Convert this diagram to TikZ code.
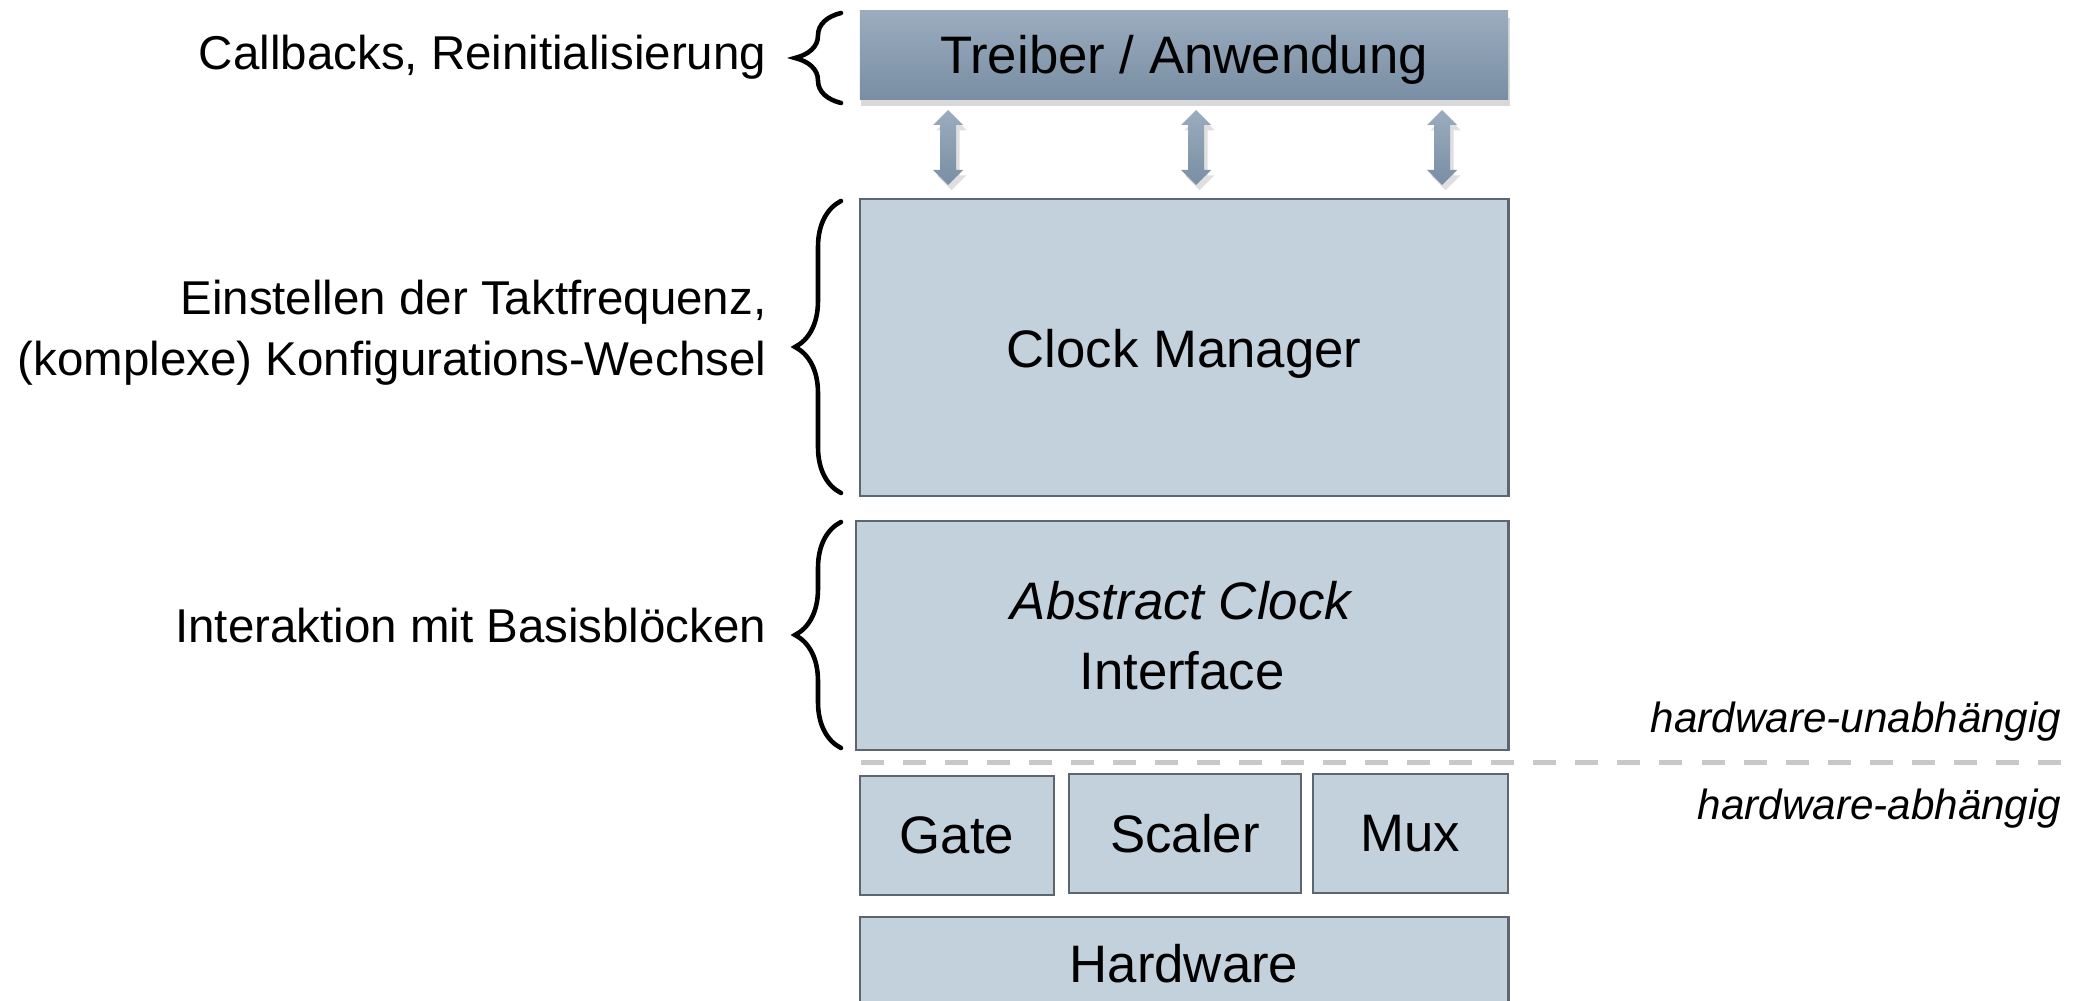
\documentclass[tikz,border=0pt]{standalone}
\usepackage{fontspec}
\setmainfont{Liberation Sans}
\usetikzlibrary{shadows,decorations.pathreplacing,calc}
\definecolor{boxfill}{HTML}{C3D1DC}
\definecolor{boxline}{HTML}{5B6670}
\definecolor{topA}{HTML}{9BACBE}
\definecolor{topB}{HTML}{798EA4}
\definecolor{dashc}{HTML}{C8C8C8}
\begin{document}
\begin{tikzpicture}[x=0.01cm,y=-0.01cm,
  blk/.style={draw=boxline, line width=0.75pt, fill=boxfill, inner sep=0pt, outer sep=0pt,
    font=\fontsize{15pt}{19.9pt}\selectfont, align=center},
  topblk/.style={inner sep=0pt, outer sep=0pt, top color=topA, bottom color=topB,
    font=\fontsize{15pt}{18pt}\selectfont,
    drop shadow={shadow xshift=0.4pt, shadow yshift=-2pt, opacity=0.3}},
  lbl/.style={anchor=east, align=right, inner sep=0pt, font=\fontsize{13.5pt}{17.4pt}\selectfont},
  rlbl/.style={anchor=east, inner sep=0pt, font=\fontsize{12pt}{14pt}\selectfont\itshape},
  brc/.style={decorate, decoration={brace, amplitude=0.46cm}, line width=1.3pt, line cap=round},
  dblarrow/.style={top color=topA, bottom color=topB,
    drop shadow={shadow xshift=1pt, shadow yshift=-1.5pt, opacity=0.25}}
]
\useasboundingbox (0,0) rectangle (2073,1001);
\clip (0,0) rectangle (2073,1001);

% boxes
\node[topblk, minimum width=6.48cm, minimum height=0.88cm, text height=0.45cm, text depth=0.08cm] (treiber) at (1184,55) {Treiber / Anwendung};
\node[blk, minimum width=6.48cm, minimum height=2.97cm, text height=0.50cm, text depth=0.106cm] (cm) at (1184,347.5) {Clock Manager};
\node[blk, minimum width=6.52cm, minimum height=2.29cm] (aci) at (1182,635.5) {\textit{Abstract Clock}\\Interface};
\node[blk, minimum width=1.94cm, minimum height=1.19cm] (gate) at (957,835.5) {Gate};
\node[blk, minimum width=2.32cm, minimum height=1.19cm] (scaler) at (1185,833.5) {Scaler};
\node[blk, minimum width=1.95cm, minimum height=1.19cm] (mux) at (1410.5,833.5) {Mux};
\node[blk, minimum width=6.48cm, minimum height=0.94cm] (hw) at (1184,964) {Hardware};

% double arrows between Treiber and Clock Manager
\foreach \cx/\nm in {948/a, 1196/b, 1442/c}{
  \coordinate (top\nm) at (\cx,110);
  \coordinate (bot\nm) at (\cx,185);
  \path[dblarrow] (top\nm) -- ++(15,15) -- ++(-7,0) -- ++(0,45) -- ++(7,0) -- (bot\nm)
     -- ++(-15,-15) -- ++(7,0) -- ++(0,-45) -- ++(-7,0) -- cycle;
}

% separator
\coordinate (sepL) at (861,763);
\coordinate (sepR) at (2073,763);
\draw[dashc, line width=0.05cm, dash pattern=on 0.23cm off 0.19cm] (sepL) -- (sepR);

% braces
\draw[brc] (841,103) -- (841,13);
\draw[brc] (841,493) -- (841,201);
\draw[brc] (841,748) -- (841,522);

% left labels
\node[lbl] (l1) at (767,57) {Callbacks, Reinitialisierung};
\node[lbl] (l2) at (767,333) {Einstellen der Taktfrequenz,\\(komplexe) Konfigurations-Wechsel};
\node[lbl] (l3) at (767,626) {Interaktion mit Basisblöcken};

% right labels
\node[rlbl] (r1) at (2062,722) {hardware-unabhängig};
\node[rlbl] (r2) at (2062,809) {hardware-abhängig};
\end{tikzpicture}
\end{document}
